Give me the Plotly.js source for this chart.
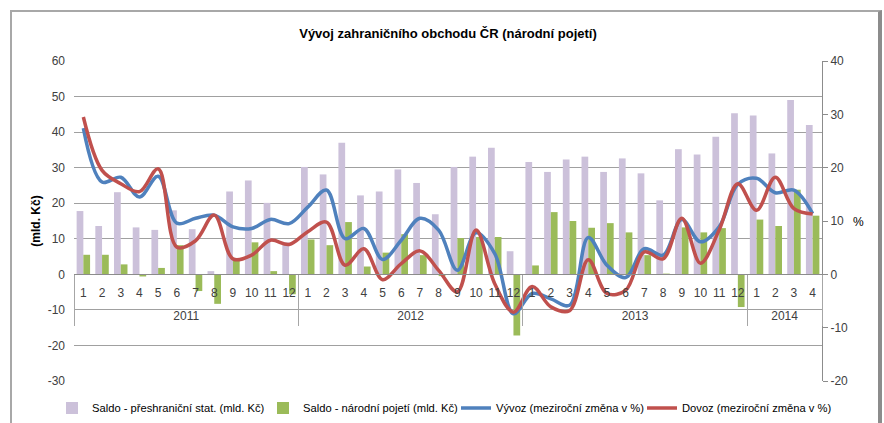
<!DOCTYPE html>
<html>
<head>
<meta charset="utf-8">
<script src="https://cdn.plot.ly/plotly-3.0.1.min.js"></script>
<style>
  html, body { margin: 0; padding: 0; background: #ffffff; overflow: hidden; }
  #wrap { position: relative; width: 884px; height: 423px; }
  #chart { position: absolute; left: 0; top: 0; width: 884px; height: 423px; }
  #frame {
    position: absolute; left: 10px; top: 10px; width: 866px; height: 440px;
    border-left: 2px solid #a8a8a8; border-top: 2px solid #a8a8a8;
    border-right: 4px solid #8c8c8c; pointer-events: none;
  }
</style>
</head>
<body>
<div id="wrap">
  <div id="chart"></div>
  <div id="frame"></div>
</div>
<script>
// ---- data ----
const yearLabels = [
  "2011","2011","2011","2011","2011","2011","2011","2011","2011","2011","2011","2011",
  "2012","2012","2012","2012","2012","2012","2012","2012","2012","2012","2012","2012",
  "2013","2013","2013","2013","2013","2013","2013","2013","2013","2013","2013","2013",
  "2014","2014","2014","2014"
];
const monthLabels = [
  "1","2","3","4","5","6","7","8","9","10","11","12",
  "1","2","3","4","5","6","7","8","9","10","11","12",
  "1","2","3","4","5","6","7","8","9","10","11","12",
  "1","2","3","4"
];
// Saldo - přeshraniční stat. (mld. Kč)
const saldoPreshranicni = [
  17.8, 13.6, 23.1, 13.2, 12.5, 18.0, 12.7, 0.9, 23.3, 26.4, 20.1, 9.0,
  30.2, 28.1, 37.0, 22.2, 23.3, 29.5, 25.7, 16.9, 30.2, 33.1, 35.6, 6.5,
  31.6, 28.8, 32.3, 33.1, 28.8, 32.6, 28.4, 20.8, 35.2, 33.7, 38.7, 45.3,
  44.7, 34.0, 49.0, 42.0
];
// Saldo - národní pojetí (mld. Kč)
const saldoNarodni = [
  5.5, 5.5, 2.8, -0.6, 1.8, 8.2, -4.7, -8.3, 4.5, 9.0, 0.9, -5.6,
  9.8, 8.2, 14.7, 2.2, 6.1, 11.3, 5.4, -0.5, 10.2, 10.5, 10.5, -17.2,
  2.5, 17.5, 15.0, 13.1, 14.4, 11.8, 5.4, 0.2, 13.2, 11.8, 13.0, -9.2,
  15.4, 13.6, 23.8, 16.5
];
// Vývoz (meziroční změna v %)
const vyvoz = [
  27.4, 17.3, 18.2, 14.5, 18.4, 9.6, 10.5, 11.1, 8.9, 8.6, 10.3, 9.5,
  12.6, 15.8, 6.7, 8.6, 2.8, 6.4, 10.5, 8.3, 0.75, 7.8, 3.9, -7.4,
  -3.6, -4.6, -5.8, 6.9, 1.7, -0.6, 4.8, 3.6, 10.3, 6.1, 8.9, 16.9,
  18.0, 15.3, 15.8, 11.4
];
// Dovoz (meziroční změna v %)
const dovoz = [
  29.5, 19.5, 17.0, 15.5, 19.8, 5.1, 6.3, 11.1, 2.9, 3.6, 6.4, 5.6,
  8.0, 9.8, 1.7, 4.8, -1.0, 2.0, 4.4, 0.75, -3.3, 8.3, -1.75, -7.1,
  -2.3, -6.1, -6.8, 2.75, -3.6, -3.0, 4.2, 2.9, 10.5, 2.1, 8.3, 17.0,
  12.0, 18.2, 12.3, 11.3
];
const seriesNames = [
  "Saldo - přeshraniční stat. (mld. Kč)",
  "Saldo - národní pojetí (mld. Kč)",
  "Vývoz (meziroční změna v %)",
  "Dovoz (meziroční změna v %)"
];
const leftTicks = [-30, -20, -10, 0, 10, 20, 30, 40, 50, 60];
const rightTicks = [-20, -10, 0, 10, 20, 30, 40];
const leftRange = [-30, 60];
const rightRange = [-20, 40];

// ---- derived axis helpers ----
const idx = monthLabels.map((_, i) => i);
const yearNames = [], yearCenters = [], yearBounds = [];
{
  let start = 0;
  for (let i = 1; i <= yearLabels.length; i++) {
    if (i === yearLabels.length || yearLabels[i] !== yearLabels[start]) {
      yearNames.push(yearLabels[start]);
      yearCenters.push((start + i - 1) / 2);
      yearBounds.push(start - 0.5);
      start = i;
    }
  }
  yearBounds.push(yearLabels.length - 0.5);
}

// ---- chart ----
const FONT = "Liberation Sans, Arial, sans-serif";
const tickFont = { family: FONT, size: 12, color: "#404040" };

const traces = [
  { type: "bar", name: seriesNames[0], x: idx, y: saldoPreshranicni,
    marker: { color: "#CCC1DA" }, xaxis: "x", yaxis: "y", legend: "legend" },
  { type: "bar", name: seriesNames[1], x: idx, y: saldoNarodni,
    marker: { color: "#9BBB59" }, xaxis: "x", yaxis: "y", legend: "legend2" },
  { type: "scatter", mode: "lines", name: seriesNames[2], x: idx, y: vyvoz,
    line: { color: "#4F81BD", width: 3.5, shape: "spline", smoothing: 1 }, xaxis: "x", yaxis: "y2", legend: "legend3" },
  { type: "scatter", mode: "lines", name: seriesNames[3], x: idx, y: dovoz,
    line: { color: "#C0504D", width: 3.5, shape: "spline", smoothing: 1 }, xaxis: "x", yaxis: "y2", legend: "legend4" },
  // empty helper trace so the year-label axis (x2) is registered and drawn
  { type: "scatter", mode: "lines", x: [], y: [], xaxis: "x2", yaxis: "y",
    showlegend: false, hoverinfo: "skip" }
];

const zeroPos = (0 - leftRange[0]) / (leftRange[1] - leftRange[0]);
const xRange = [-0.5, idx.length - 0.5];

function legendAt(px) {
  return {
    orientation: "h", xref: "container", x: px / 884, xanchor: "left",
    yref: "container", y: 1 - 408 / 423, yanchor: "middle",
    font: { family: FONT, size: 11.2, color: "#000000" },
    bgcolor: "rgba(0,0,0,0)"
  };
}

const layout = {
  width: 884, height: 423,
  margin: { l: 74, r: 62, t: 61, b: 42, autoexpand: false },
  paper_bgcolor: "rgba(0,0,0,0)", plot_bgcolor: "#ffffff",
  showlegend: true,
  title: {
    text: "<b>Vývoj zahraničního obchodu ČR (národní pojetí)</b>",
    font: { family: FONT, size: 13, color: "#000000" },
    xref: "paper", x: 0.5, xanchor: "center",
    yref: "container", y: 1 - 33 / 423, yanchor: "middle"
  },
  barmode: "group", bargap: 0.28, bargroupgap: 0,
  xaxis: {
    type: "linear", range: xRange, anchor: "free", position: zeroPos,
    tickmode: "array", tickvals: idx, ticktext: monthLabels,
    showline: true, linecolor: "#8c8c8c", linewidth: 1,
    ticks: "", showgrid: false, zeroline: false, tickangle: 0,
    ticklabelstandoff: 7, tickfont: tickFont, automargin: false
  },
  xaxis2: {
    type: "linear", range: xRange, overlaying: "x", anchor: "free", position: zeroPos, side: "bottom",
    tickmode: "array", tickvals: yearCenters, ticktext: yearNames,
    showline: false, ticks: "", showgrid: false, zeroline: false, tickangle: 0,
    ticklabelstandoff: 33, tickfont: tickFont, automargin: false,
    minor: { tickmode: "array", tickvals: yearBounds, ticks: "outside", ticklen: 51,
             tickcolor: "#a6a6a6", tickwidth: 1, showgrid: false }
  },
  yaxis: {
    range: leftRange, tickmode: "array", tickvals: leftTicks, ticktext: leftTicks.map(String),
    showgrid: true, gridcolor: "#a0a0a0", gridwidth: 1,
    zeroline: false, showline: false, ticks: "",
    ticklabelstandoff: 8, automargin: false,
    tickfont: tickFont,
    title: { text: "<b>(mld. Kč)</b>", font: { family: FONT, size: 12, color: "#000000" }, standoff: 4 }
  },
  yaxis2: {
    range: rightRange, tickmode: "array", tickvals: rightTicks, ticktext: rightTicks.map(String),
    overlaying: "y", side: "right", anchor: "x",
    showgrid: false, zeroline: false, automargin: false,
    showline: true, linecolor: "#8c8c8c", linewidth: 1,
    ticks: "outside", ticklen: 5, tickcolor: "#8c8c8c",
    tickfont: tickFont
  },
  legend: legendAt(52),
  legend2: legendAt(263),
  legend3: legendAt(456),
  legend4: legendAt(642),
  annotations: [
    { text: "%", xref: "paper", yref: "paper", x: (858 - 74) / 748, y: (381 - 222) / 320,
      xanchor: "center", yanchor: "middle", showarrow: false,
      font: { family: FONT, size: 12, color: "#000000" } }
  ]
};

Plotly.newPlot("chart", traces, layout, { displayModeBar: false, staticPlot: true });
</script>
</body>
</html>
